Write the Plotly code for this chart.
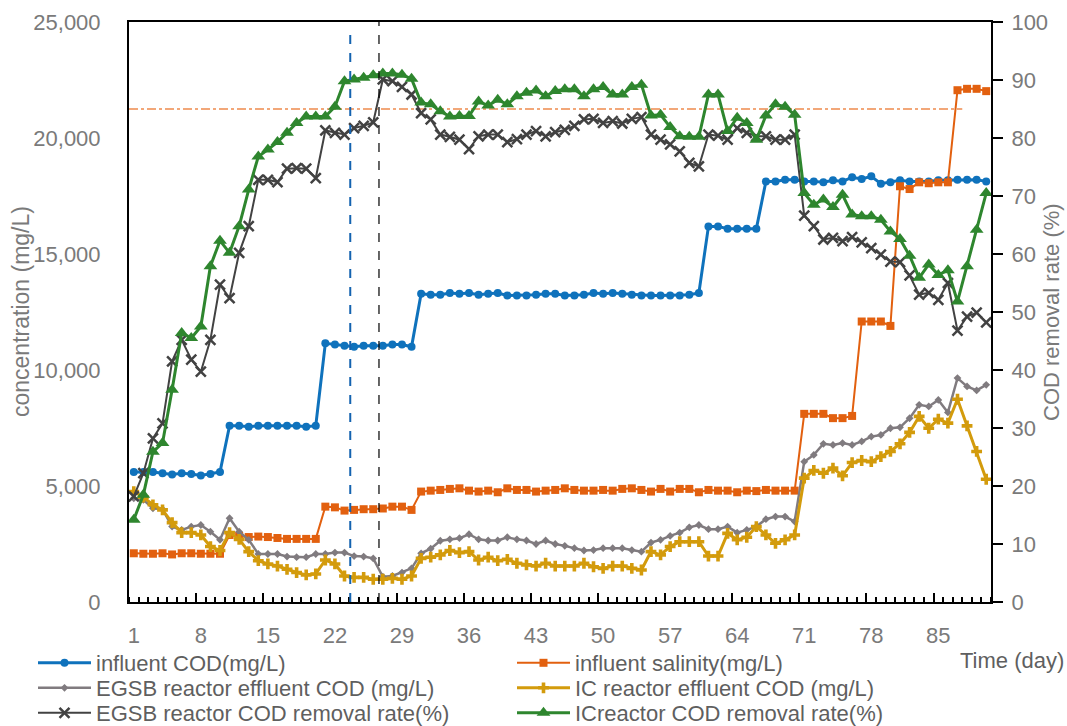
import plotly.graph_objects as go

# ---------------- data ----------------
days = list(range(1, 91))
x_tick_days = [1, 8, 15, 22, 29, 36, 43, 50, 57, 64, 71, 78, 85]
x_major_bounds = [7.5, 14.5, 21.5, 28.5, 35.5, 42.5, 49.5, 56.5, 63.5, 70.5, 77.5, 84.5]

influent_cod = [
    5600, 5600, 5600, 5550, 5500, 5550, 5520, 5450, 5520, 5600,
    7600, 7600, 7550, 7600, 7600, 7600, 7600, 7600, 7550, 7600,
    11150, 11100, 11050, 11000, 11050, 11050, 11050, 11100, 11100, 11000,
    13290, 13240, 13240, 13320, 13290, 13320, 13240, 13290, 13320, 13210,
    13210, 13210, 13240, 13290, 13290, 13210, 13210, 13240, 13320, 13290,
    13320, 13290, 13240, 13210, 13210, 13210, 13210, 13210, 13240, 13320,
    16190, 16190, 16090, 16090, 16090, 16090, 18130, 18130, 18200, 18200,
    18130, 18130, 18090, 18180, 18130, 18310, 18230, 18350, 18030, 18090,
    18180, 18130, 18130, 18130, 18180, 18180, 18200, 18200, 18200, 18130,
]

influent_salinity = [
    2100, 2080, 2080, 2100, 2050, 2100, 2100, 2080, 2080, 2080,
    2890, 2850, 2800, 2820, 2800, 2760, 2720, 2720, 2720, 2720,
    4110, 4080, 3940, 3970, 4000, 4000, 4030, 4110, 4110, 3970,
    4760, 4800, 4830, 4875, 4900, 4800, 4760, 4800, 4730, 4900,
    4830, 4830, 4760, 4800, 4830, 4900, 4830, 4800, 4800, 4830,
    4800, 4875, 4900, 4830, 4760, 4875, 4760, 4875, 4875, 4730,
    4830, 4800, 4800, 4730, 4800, 4780, 4830, 4800, 4800, 4800,
    8110, 8110, 8110, 7925, 7925, 8020, 12090, 12090, 12090, 11900,
    17920, 17800, 18090, 18050, 18090, 18090, 22060, 22120, 22120, 22020,
]

egsb_effluent_cod = [
    4470, 4400, 4040, 4000, 3250, 3110, 3250, 3320, 3030, 2680,
    3610, 3030, 2680, 2070, 2070, 2070, 1960, 1930, 1930, 2070,
    2070, 2130, 2130, 1980, 1960, 1880, 1090, 1120, 1270, 1450,
    2100, 2300, 2640, 2700, 2750, 2920, 2700, 2650, 2650, 2790,
    2700, 2650, 2500, 2650, 2500, 2420, 2320, 2220, 2240, 2320,
    2320, 2320, 2240, 2170, 2560, 2680, 2850, 2990, 3220, 3320,
    3140, 3140, 3250, 2990, 3110, 3250, 3570, 3680, 3680, 3470,
    6050, 6340, 6820, 6770, 6850, 6770, 6920, 7130, 7200, 7490,
    7530, 7920, 8500, 8430, 8710, 8170, 9650, 9290, 9120, 9360,
]

ic_effluent_cod = [
    4760, 4520, 4190, 3970, 3420, 2990, 2990, 2890, 2390, 2220,
    2990, 2700, 2170, 1780, 1640, 1550, 1410, 1270, 1170, 1210,
    1810, 1640, 1120, 1060, 1060, 980, 980, 1020, 980, 1120,
    1880, 1930, 2030, 2220, 2130, 2170, 1810, 1930, 1780, 1840,
    1670, 1600, 1550, 1670, 1550, 1550, 1550, 1670, 1520, 1450,
    1550, 1550, 1450, 1380, 2170, 2030, 2390, 2600, 2600, 2600,
    1980, 1980, 2960, 2680, 2790, 3250, 2890, 2530, 2680, 2890,
    5340, 5670, 5550, 5770, 5440, 6010, 6100, 6050, 6270, 6490,
    6820, 7310, 8000, 7490, 7880, 7710, 8740, 7590, 6490, 5290,
]

egsb_removal_rate = [
    18.2, 22.2, 28.2, 30.8, 41.5, 45.2, 41.8, 39.7, 45.2, 54.7,
    52.4, 60.2, 64.8, 72.8, 72.8, 72.4, 74.7, 74.8, 74.7, 73.1,
    81.3, 80.9, 80.6, 81.7, 82.1, 82.7, 90.1, 89.8, 88.8, 87.5,
    84.3, 83.2, 80.6, 80.2, 79.7, 78.1, 80.3, 80.6, 80.6, 79.3,
    79.8, 80.6, 81.2, 80.3, 81.0, 81.4, 82.1, 83.2, 83.3, 82.6,
    82.9, 82.5, 83.3, 83.6, 80.6, 79.7, 78.9, 77.7, 75.7, 75.1,
    80.6, 80.4, 79.7, 81.7, 80.9, 80.3, 80.3, 79.7, 79.7, 80.6,
    66.6, 64.8, 62.5, 62.8, 62.2, 62.9, 62.0, 61.0, 59.9, 58.7,
    58.6, 56.3, 53.0, 53.3, 52.1, 55.0, 46.8, 49.2, 49.9, 48.2,
]

ic_removal_rate = [
    14.2, 18.5, 25.9, 27.4, 36.6, 46.4, 45.5, 47.5, 57.9, 62.3,
    60.2, 64.8, 71.1, 76.8, 78.0, 79.3, 80.9, 82.6, 83.7, 83.7,
    83.7, 85.4, 89.8, 90.1, 90.4, 90.8, 91.1, 91.1, 90.9, 90.2,
    86.1, 85.8, 84.6, 83.7, 83.8, 83.8, 86.3, 85.6, 86.6, 85.8,
    87.2, 87.8, 88.2, 87.2, 88.1, 88.4, 88.4, 87.2, 88.4, 88.8,
    87.5, 87.5, 88.8, 89.2, 83.9, 84.0, 81.9, 80.3, 80.2, 80.2,
    87.5, 87.5, 81.2, 83.5, 82.6, 79.7, 83.9, 85.8, 85.4, 84.0,
    70.5, 68.5, 69.4, 68.1, 70.2, 66.8, 66.5, 66.5, 65.9, 63.9,
    62.6, 59.7, 55.9, 58.2, 56.4, 57.2, 51.8, 57.9, 64.2, 70.5,
]

# reference lines
threshold_rate = 85          # % (dash-dot line, right axis)
threshold_end_day = 87.5
marker_day_blue = 23.6
marker_day_black = 26.6

# ---------------- style ----------------
FONT = "Liberation Sans"
TICK_GRAY = "#7a7a7a"
LEG_GRAY = "#5f5f5f"

fig = go.Figure()


def add(name, y, color, symbol, msize, lwidth, yaxis, legend, mline=0):
    fig.add_trace(go.Scatter(
        x=days, y=y, name=name, mode="lines+markers", yaxis=yaxis,
        line=dict(color=color, width=lwidth),
        marker=dict(symbol=symbol, size=msize, color=color,
                    line=dict(color=color, width=mline)),
        legend=legend,
    ))


add("influent COD(mg/L)", influent_cod, "#0F72BC", "circle", 8, 3, "y", "legend")
add("influent salinity(mg/L)", influent_salinity, "#E2600F", "square", 8, 2, "y", "legend")
add("EGSB reactor effluent COD (mg/L)", egsb_effluent_cod, "#807B7F", "diamond", 6, 2.5, "y", "legend2")
add("IC reactor effluent COD (mg/L)", ic_effluent_cod, "#D39B0C", "cross", 9, 3, "y", "legend2")
add("EGSB reactor COD removal rate(%)", egsb_removal_rate, "#424242", "x-thin", 10, 2, "y2", "legend3", mline=2.5)
add("ICreactor COD removal rate(%)", ic_removal_rate, "#2E862E", "triangle-up", 12, 3, "y2", "legend3")

# dummy trace to carry the longer category ticks axis
fig.add_trace(go.Scatter(x=[x_major_bounds[0]], y=[None], xaxis="x2", yaxis="y",
                         showlegend=False, hoverinfo="skip", mode="lines"))

PLOT_L, PLOT_R, PLOT_T, PLOT_B = 129, 991, 22, 602
W, H = 1067, 726
pw, ph = PLOT_R - PLOT_L, PLOT_B - PLOT_T


def px_x(px):
    return (px - PLOT_L) / pw


def px_y(py):
    return (PLOT_B - py) / ph


legend_common = dict(
    orientation="h", xanchor="left", yanchor="middle", x=px_x(33),
    bgcolor="rgba(0,0,0,0)", font=dict(family=FONT, size=22, color=LEG_GRAY),
    entrywidth=411, entrywidthmode="pixels", itemwidth=53,
)

fig.update_layout(
    width=W, height=H,
    margin=dict(l=PLOT_L, r=W - PLOT_R, t=PLOT_T, b=H - PLOT_B, autoexpand=False),
    paper_bgcolor="white", plot_bgcolor="white",
    font=dict(family=FONT, color=TICK_GRAY),
    legend=dict(legend_common, y=px_y(663)),
    legend2=dict(legend_common, y=px_y(688)),
    legend3=dict(legend_common, y=px_y(713)),
    xaxis=dict(
        range=[0.5, 90.5], tickmode="array", tickvals=x_tick_days,
        ticktext=[str(v) for v in x_tick_days], ticks="",
        showline=True, linecolor="black", linewidth=2, mirror=True,
        showgrid=False, zeroline=False,
        tickfont=dict(family=FONT, size=22, color=TICK_GRAY), ticklabelstandoff=13,
        minor=dict(tickmode="linear", tick0=0.5, dtick=1, ticks="inside",
                   ticklen=5, tickwidth=1.5, tickcolor="black"),
    ),
    xaxis2=dict(
        range=[0.5, 90.5], overlaying="x", anchor="y", side="bottom",
        tickmode="array", tickvals=x_major_bounds, ticks="inside", ticklen=9,
        tickwidth=1.5, tickcolor="black", showticklabels=False,
        showline=False, showgrid=False, zeroline=False,
    ),
    yaxis=dict(
        range=[0, 25000], tickmode="array",
        tickvals=[0, 5000, 10000, 15000, 20000, 25000],
        tickformat=",d", ticks="", showline=True, linecolor="black", linewidth=2,
        showgrid=False, zeroline=False, ticklabelstandoff=22,
        tickfont=dict(family=FONT, size=22, color=TICK_GRAY),
    ),
    yaxis2=dict(
        range=[0, 100], tickmode="array", tickvals=list(range(0, 101, 10)),
        overlaying="y", side="right", showline=True, linecolor="black", linewidth=2,
        ticks="outside", ticklen=10, tickwidth=1.5, tickcolor="black",
        showgrid=False, zeroline=False, ticklabelstandoff=4,
        tickfont=dict(family=FONT, size=22, color=TICK_GRAY),
    ),
    shapes=[
        dict(type="line", xref="x", yref="y2", x0=0.5, x1=threshold_end_day,
             y0=threshold_rate, y1=threshold_rate,
             line=dict(color="#EE8A4E", width=1.5, dash="dashdot"), layer="below"),
        dict(type="line", xref="x", yref="paper", x0=marker_day_blue, x1=marker_day_blue,
             y0=0, y1=px_y(31), line=dict(color="#1463B0", width=2, dash="dash")),
        dict(type="line", xref="x", yref="paper", x0=marker_day_black, x1=marker_day_black,
             y0=0, y1=1, line=dict(color="black", width=1.2, dash="dash")),
    ],
    annotations=[
        dict(text="concentration (mg/L)", xref="paper", yref="paper", x=px_x(21), y=0.5,
             textangle=-90, showarrow=False, xanchor="center", yanchor="middle",
             font=dict(family=FONT, size=23, color=TICK_GRAY)),
        dict(text="COD removal rate (%)", xref="paper", yref="paper", x=px_x(1051), y=0.5,
             textangle=-90, showarrow=False, xanchor="center", yanchor="middle",
             font=dict(family=FONT, size=22, color=TICK_GRAY)),
        dict(text="Time (day)", xref="paper", yref="paper", x=px_x(1066), y=px_y(660),
             showarrow=False, xanchor="right", yanchor="middle",
             font=dict(family=FONT, size=22, color=LEG_GRAY)),
    ],
)

fig.write_html("out.html")
